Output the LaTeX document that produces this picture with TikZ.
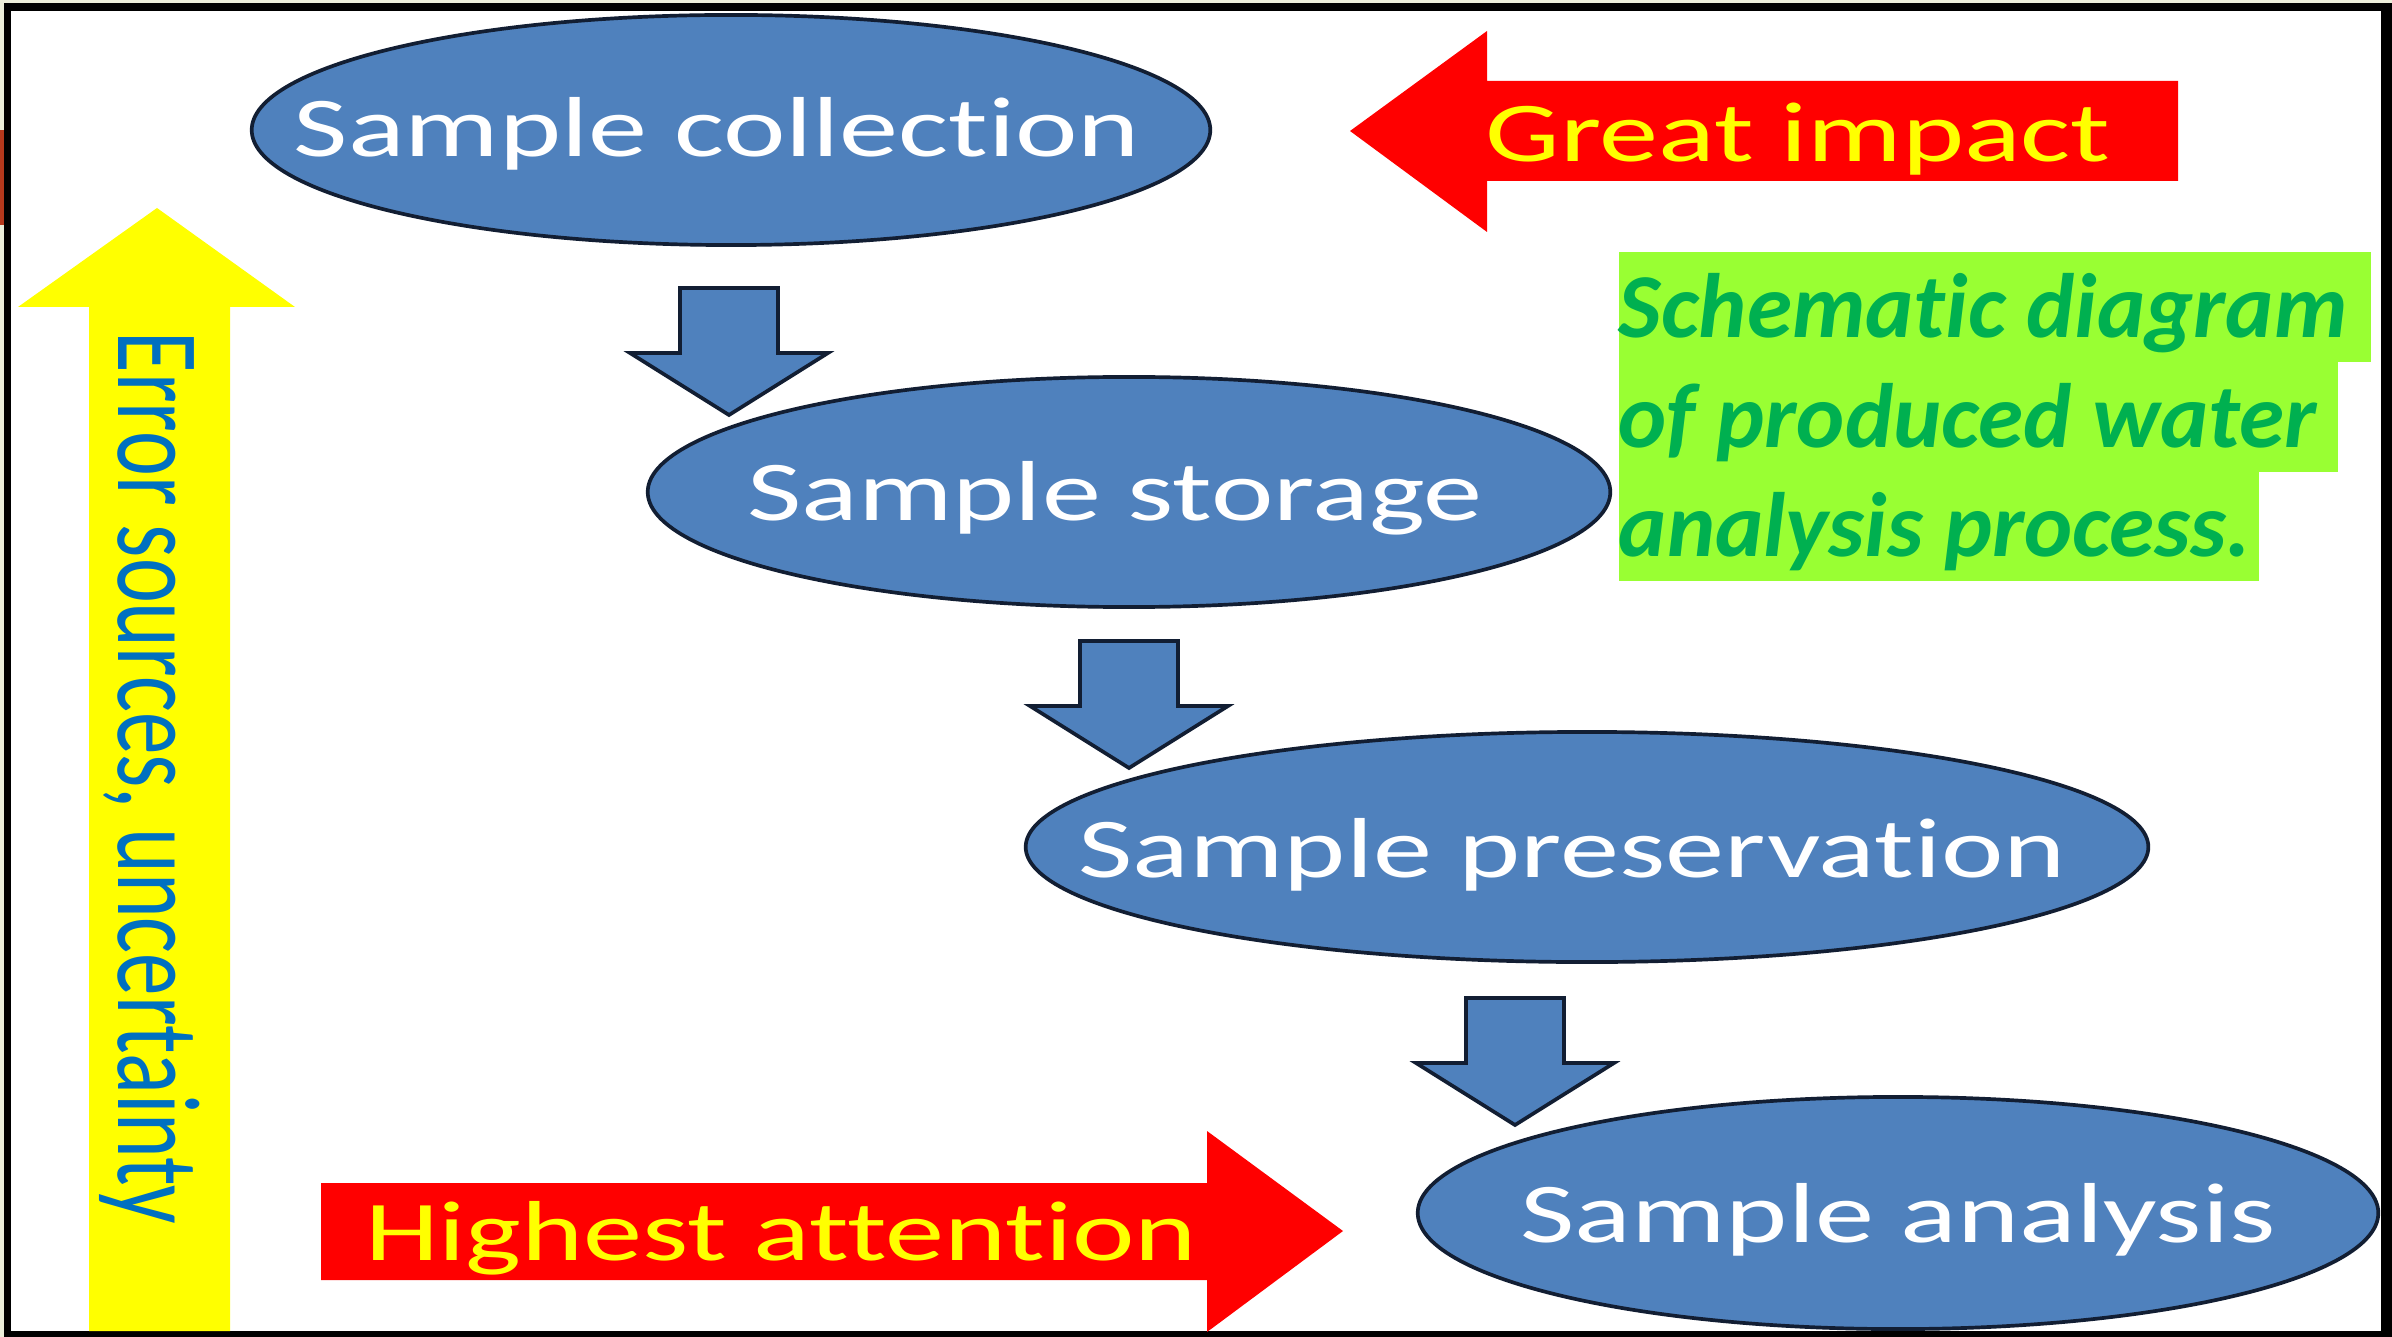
\documentclass[tikz,border=0pt]{standalone}
\usepackage{fontspec}
\setmainfont[RawFeature={-liga;-clig;-calt;-dlig}]{Carlito}
\newfontfamily\widefont[FakeStretch=1.39,RawFeature={-liga;-clig;-calt;-dlig}]{Carlito}
\usetikzlibrary{shapes.geometric}
\definecolor{boxblue}{HTML}{4F81BD}
\definecolor{outl}{HTML}{121E33}
\definecolor{pptred}{HTML}{FF0000}
\definecolor{pptyellow}{HTML}{FFFF00}
\definecolor{txtblue}{HTML}{0070C0}
\definecolor{lime}{HTML}{99FF33}
\definecolor{txtgreen}{HTML}{00B050}
\definecolor{beige}{HTML}{ECEEDA}
\definecolor{rust}{HTML}{B5381C}
\newcommand\flowarrow[2]{%
  \draw[flow] (#1-49,#2) -- ++(98,0) -- ++(0,65) -- ++(50,0) -- ++(-99,62) -- ++(-99,-62) -- ++(50,0) -- cycle;}
\begin{document}
\begin{tikzpicture}[x=0.01cm,y=-0.01cm,
  stage/.style={ellipse, draw=outl, line width=1.05pt, fill=boxblue, inner sep=0pt},
  stagetext/.style={anchor=base, text=white, inner sep=0pt, font=\widefont\fontsize{24.2}{29}\selectfont},
  flow/.style={draw=outl, line width=1.05pt, fill=boxblue, line join=miter},
  redarrow/.style={fill=pptred},
  redtext/.style={anchor=base, text=pptyellow, inner sep=0pt, font=\widefont\fontsize{24.2}{29}\selectfont},
  sidetext/.style={anchor=base, rotate=-90, text=txtblue, inner sep=0pt, font=\fontsize{24.2}{29}\selectfont},
  note/.style={anchor=north west, fill=lime, text=txtgreen, inner sep=0pt, text height=0.86cm, text depth=0.24cm, font=\fontsize{26}{31}\selectfont\bfseries\itshape}
]
\useasboundingbox (0,0) rectangle (2392,1337);
% frame
\fill[beige] (0,0) rectangle (2392,1337);
\fill[rust] (0,130) rectangle (4,225);
\fill[black] (4,3) rectangle (2392,1337);
\fill[white] (11,11) rectangle (2381,1331);

% yellow arrow
\fill[pptyellow] (89,1331) -- (89,307) -- (18,307) -- (157,208) -- (295,307) -- (230,307) -- (230,1331) -- cycle;
\node[sidetext] (err) at (118,778) {\scalebox{1}[1.39]{Error sources, uncertainty}};

% red arrows
\fill[redarrow] (1350,131) -- (1487,31) -- (1487,81) -- (2178,81) -- (2178,181) -- (1487,181) -- (1487,232) -- cycle;
\node[redtext] (great) at (1798,162) {Great impact};
\fill[redarrow] (321,1183) -- (1207,1183) -- (1207,1131) -- (1343,1231) -- (1207,1332) -- (1207,1280) -- (321,1280) -- cycle;
\node[redtext] (high) at (781,1260) {Highest attention};

% stages
\node[stage, minimum width=9.58cm, minimum height=2.30cm] (e1) at (731,130) {};
\node[stage, minimum width=9.62cm, minimum height=2.30cm] (e2) at (1129,492) {};
\node[stage, minimum width=11.22cm, minimum height=2.30cm] (e3) at (1587,847) {};
\node[stage, minimum width=9.60cm, minimum height=2.32cm] (e4) at (1898,1213) {};
\node[stagetext] (t1) at (717,157) {Sample collection};
\node[stagetext] (t2) at (1115,521) {Sample storage};
\node[stagetext] (t3) at (1572,877) {Sample preservation};
\node[stagetext] (t4) at (1898,1242) {Sample analysis};

% flow arrows
\flowarrow{729}{288}
\flowarrow{1129}{641}
\flowarrow{1515}{998}

% caption
\node[note] (n1) at (1618,251) {Schematic diagram\kern0.24cm};
\node[note] (n2) at (1618,361) {of produced water\kern0.21cm};
\node[note] (n3) at (1618,470) {analysis process.\kern0.08cm};
\end{tikzpicture}
\end{document}
